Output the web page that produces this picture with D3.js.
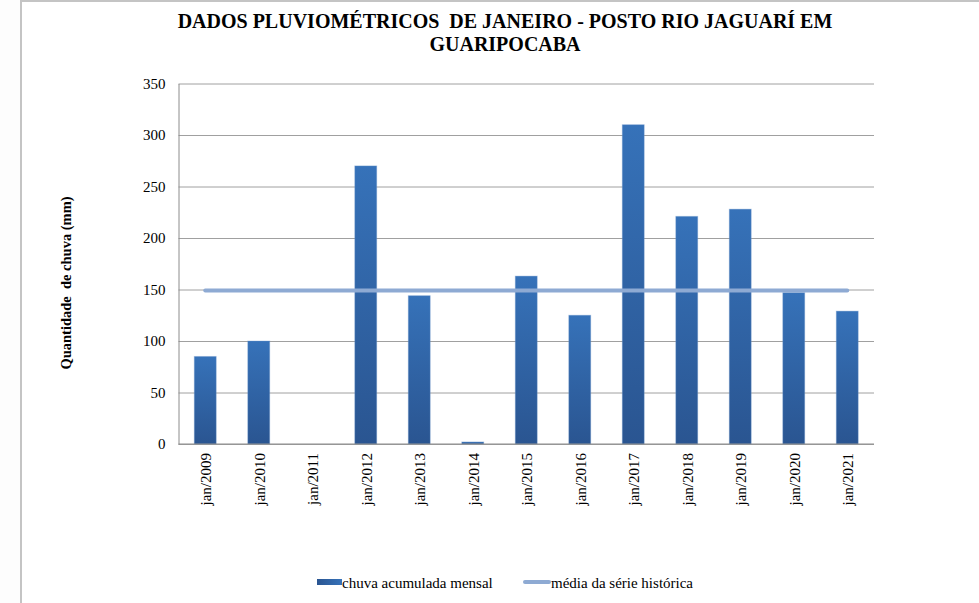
<!DOCTYPE html>
<html>
<head>
<meta charset="utf-8">
<script src="https://cdn.jsdelivr.net/npm/d3@7"></script>
<style>
  html, body { margin: 0; padding: 0; background: #ffffff; }
  svg { display: block; }
</style>
</head>
<body>
<svg id="chart" width="979" height="603"></svg>
<script>
const categories = ["jan/2009","jan/2010","jan/2011","jan/2012","jan/2013","jan/2014","jan/2015","jan/2016","jan/2017","jan/2018","jan/2019","jan/2020","jan/2021"];
const rainValues = [85, 100, 0, 270, 144, 2, 163, 125, 310, 221, 228, 147, 129];
const historicalMean = [149, 149, 149, 149, 149, 149, 149, 149, 149, 149, 149, 149, 149];
const yTicks = [0, 50, 100, 150, 200, 250, 300, 350];
const titleLines = ["DADOS PLUVIOMÉTRICOS  DE JANEIRO - POSTO RIO JAGUARÍ EM", "GUARIPOCABA"];
const yAxisTitle = "Quantidade  de chuva (mm)";
const seriesNames = ["chuva acumulada mensal", "média da série histórica"];

const FONT = "'Liberation Serif', 'Times New Roman', serif";
const svg = d3.select("#chart");
const plot = { left: 178.5, right: 874, top: 83.5, bottom: 444 };

// frame
svg.append("rect").attr("x", 0).attr("y", 0).attr("width", 979).attr("height", 603).attr("fill", "#fdfdfd");
svg.append("rect").attr("x", 21).attr("y", 1).attr("width", 960).attr("height", 610).attr("fill", "#ffffff");
svg.append("line").attr("x1", 21).attr("x2", 21).attr("y1", 0.5).attr("y2", 603).attr("stroke", "#c4c4c4").attr("stroke-width", 2);
svg.append("line").attr("x1", 20).attr("x2", 979).attr("y1", 1).attr("y2", 1).attr("stroke", "#c4c4c4").attr("stroke-width", 2);

const defs = svg.append("defs");
const grad = defs.append("linearGradient").attr("id", "barGrad").attr("x1", 0).attr("y1", 0).attr("x2", 0).attr("y2", 1);
grad.append("stop").attr("offset", "0%").attr("stop-color", "#3672b9");
grad.append("stop").attr("offset", "100%").attr("stop-color", "#2a5591");
const lgrad = defs.append("linearGradient").attr("id", "legGrad").attr("x1", 0).attr("y1", 0).attr("x2", 1).attr("y2", 0);
lgrad.append("stop").attr("offset", "0%").attr("stop-color", "#2a5591");
lgrad.append("stop").attr("offset", "100%").attr("stop-color", "#3672b9");

const x = d3.scaleBand().domain(categories).range([plot.left, plot.right]).paddingInner(0.59).paddingOuter(0.295);
const y = d3.scaleLinear().domain([0, 350]).range([plot.bottom, plot.top]);

// gridlines
const grid = svg.append("g").attr("transform", `translate(${plot.left},0)`)
  .call(d3.axisLeft(y).tickValues(yTicks).tickSize(-(plot.right - plot.left)).tickFormat(""));
grid.select(".domain").remove();
grid.selectAll(".tick line").attr("stroke", "#a0a0a0").attr("stroke-width", 1);

// y axis
const yAxis = svg.append("g").attr("transform", `translate(${plot.left},0)`)
  .call(d3.axisLeft(y).tickValues(yTicks).tickSize(0).tickPadding(13));
yAxis.select(".domain").attr("stroke", "#8c8c8c");
yAxis.selectAll(".tick text").style("font-family", FONT).style("font-size", "15px").attr("fill", "#000");

// bars
svg.append("g").selectAll("rect").data(categories).join("rect")
  .attr("x", (d) => x(d))
  .attr("width", x.bandwidth())
  .attr("y", (d, i) => y(rainValues[i]))
  .attr("height", (d, i) => y(0) - y(rainValues[i]))
  .attr("fill", "url(#barGrad)")
  .attr("stroke", "#6f97cc").attr("stroke-opacity", 0.35).attr("stroke-width", 1);

// x axis line
svg.append("line").attr("x1", plot.left).attr("x2", plot.right).attr("y1", y(0)).attr("y2", y(0)).attr("stroke", "#8c8c8c").attr("stroke-width", 1);

// x labels
const xAxis = svg.append("g").attr("transform", `translate(0,${y(0)})`)
  .call(d3.axisBottom(x).tickSize(0).tickPadding(0));
xAxis.select(".domain").remove();
xAxis.selectAll(".tick text")
  .style("font-family", FONT).style("font-size", "15px").attr("fill", "#000")
  .attr("text-anchor", "end")
  .attr("transform", "translate(0,9) rotate(-90)")
  .attr("x", 0).attr("y", 0).attr("dy", "0.4em");

// mean line
const line = d3.line().x((d, i) => x(categories[i]) + x.bandwidth() / 2).y((d) => y(d));
svg.append("path").datum(historicalMean).attr("d", line)
  .attr("fill", "none").attr("stroke", "#8eaad3").attr("stroke-width", 4).attr("stroke-linecap", "round");

// title
svg.append("g").selectAll("text").data(titleLines).join("text")
  .attr("x", 505).attr("y", (d, i) => 28 + i * 22.5)
  .attr("text-anchor", "middle")
  .style("font-family", FONT).style("font-weight", "bold").style("font-size", "20px")
  .style("white-space", "pre")
  .text((d) => d);

// y title
svg.append("text").attr("transform", "translate(71,283) rotate(-90)")
  .attr("text-anchor", "middle")
  .style("font-family", FONT).style("font-weight", "bold").style("font-size", "14.5px")
  .style("white-space", "pre").text(yAxisTitle);

// legend
const leg = svg.append("g");
leg.append("rect").attr("x", 317).attr("y", 579).attr("width", 25).attr("height", 6).attr("fill", "url(#legGrad)");
leg.append("text").attr("x", 342).attr("y", 588).style("font-family", FONT).style("font-size", "15px").text(seriesNames[0]);
leg.append("line").attr("x1", 525).attr("x2", 549).attr("y1", 582).attr("y2", 582).attr("stroke", "#8eaad3").attr("stroke-width", 4).attr("stroke-linecap", "round");
leg.append("text").attr("x", 551).attr("y", 588).style("font-family", FONT).style("font-size", "15px").text(seriesNames[1]);
</script>
</body>
</html>
